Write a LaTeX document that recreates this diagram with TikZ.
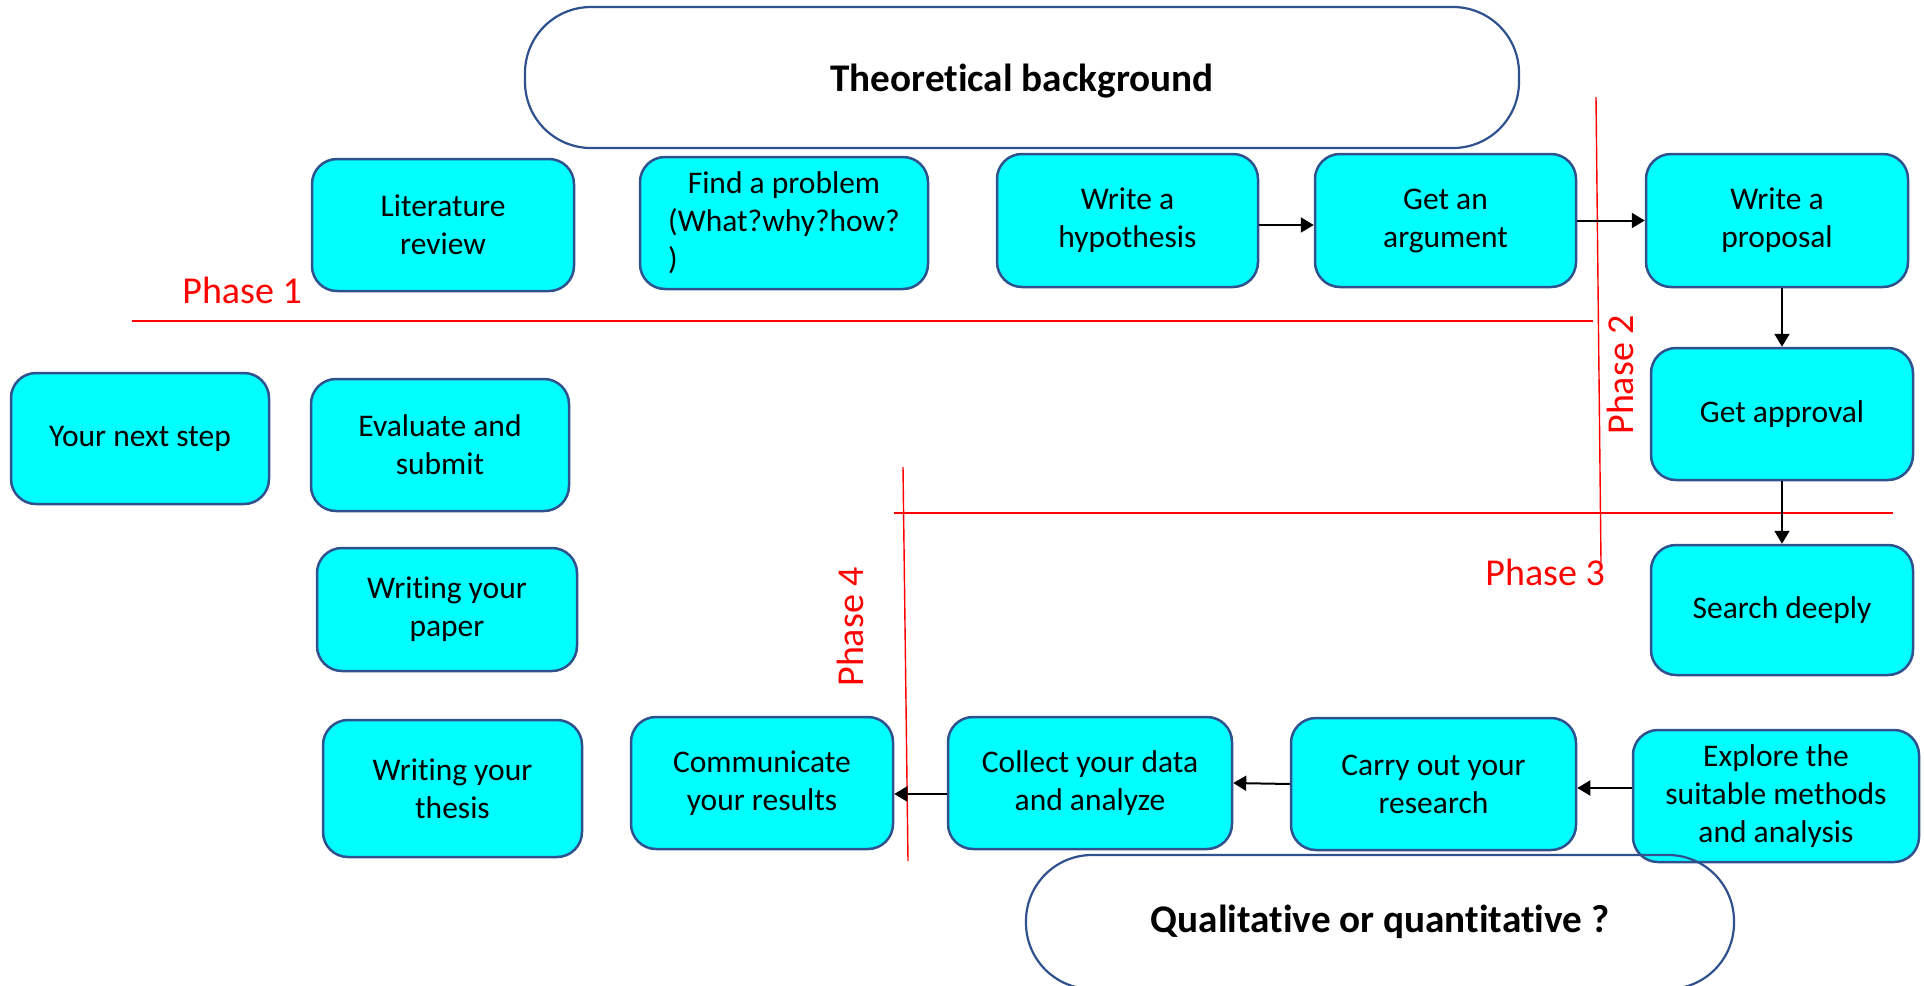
\documentclass[tikz,border=0pt]{standalone}
\usepackage{fontspec}
\usepackage{calc}
\setmainfont{Carlito}[Ligatures=NoCommon]
\usetikzlibrary{arrows.meta}
\definecolor{boxfill}{HTML}{00FFFF}
\definecolor{boxline}{HTML}{2F528F}
\definecolor{phasered}{HTML}{FF0000}
\tikzset{
  stepbox/.style={draw=boxline, fill=boxfill, line width=1.25pt, rounded corners=12.5pt,
    align=center, inner sep=0pt, font=\fontsize{15.75}{19}\selectfont},
  bigbox/.style={draw=boxline, line width=1.1pt, rounded corners=33pt, inner sep=0pt,
    font=\fontsize{19.6}{23}\selectfont\bfseries},
  arr/.style={draw=black, line width=1pt, -{Triangle[length=6.5pt,width=7.5pt]}},
  phaseline/.style={draw=phasered, line width=0.7pt},
  phaselabel/.style={text=phasered, inner sep=0pt, font=\fontsize{19}{22}\selectfont},
}
\newcommand{\bx}[6]{\node[stepbox, minimum width=#4*0.5pt, minimum height=#5*0.5pt] (#1) at (#2,#3) {#6};}
\begin{document}
\begin{tikzpicture}[x=0.5pt, y=-0.5pt]
\useasboundingbox (0,0) rectangle (1924,986);
% title box
\node[bigbox, fill=white, minimum width=497pt, minimum height=70.5pt] (theo) at (1022,77.5) {\raisebox{-2pt}[\height][\depth]{Theoretical background}};
% step boxes
\bx{lit}{443}{225}{262}{132}{Literature\\review}
\bx{find}{784}{223}{288}{132}{Find a problem\\(What?why?how?\\\makebox[\widthof{(What?why?how?}][l]{)}}
\bx{hyp}{1127.5}{220.5}{261}{133}{Write a\\hypothesis}
\bx{arg}{1445.5}{220.5}{261}{133}{Get an\\argument}
\bx{prop}{1777}{220.5}{262}{133}{Write a\\proposal}
\bx{appr}{1782}{414}{262}{132}{Get approval}
\bx{search}{1782}{610}{262}{130}{Search deeply}
\bx{next}{140}{438.5}{258}{131}{Your next step}
\bx{eval}{440}{445}{258}{132}{Evaluate and\\submit}
\bx{paper}{447}{609.5}{260}{123}{Writing your\\paper}
\bx{thesis}{452.5}{788.5}{259}{137}{Writing your\\thesis}
\bx{comm}{762}{783}{262}{132}{Communicate\\your results}
\bx{collect}{1090}{783}{284}{132}{Collect your data\\and analyze}
\bx{carry}{1433.5}{784}{285}{132}{Carry out your\\research}
\bx{explore}{1776}{796}{286}{132}{Explore the\\suitable methods\\and analysis}
% bottom question box (outline drawn over the boxes)
\node[bigbox, minimum width=354pt, minimum height=67pt] (qual) at (1380,922) {Qualitative or quantitative ?};
% phase separators
\coordinate (l1a) at (132,321);  \coordinate (l1b) at (1593,321);
\coordinate (l2a) at (1596,97);  \coordinate (l2b) at (1601,562);
\coordinate (l3a) at (894,513);  \coordinate (l3b) at (1893,513);
\coordinate (l4a) at (903,467);  \coordinate (l4b) at (908,861);
\draw[phaseline] (l1a) -- (l1b);
\draw[phaseline] (l2a) -- (l2b);
\draw[phaseline] (l3a) -- (l3b);
\draw[phaseline] (l4a) -- (l4b);
\node[phaselabel, anchor=base west] (p1) at (182,303) {Phase 1};
\node[phaselabel, anchor=base west, rotate=90] (p2) at (1633,435) {Phase 2};
\node[phaselabel, anchor=base west] (p3) at (1485,585) {Phase 3};
\node[phaselabel, anchor=base west, rotate=90] (p4) at (863,687) {Phase 4};
% connectors
\draw[arr] ([yshift=-2.25pt]hyp.east) -- ([yshift=-2.25pt]arg.west);
\draw[arr] (arg.east) -- (prop.west);
\draw[arr] ([xshift=2.5pt]prop.south) -- (appr.north);
\draw[arr] (appr.south) -- (search.north);
\draw[arr] ([yshift=4pt]explore.west) -- ([yshift=-2pt]carry.east);
\draw[arr] (carry.west) -- (collect.east);
\draw[arr] ([yshift=-5.5pt]collect.west) -- ([yshift=-5.5pt]comm.east);
\end{tikzpicture}
\end{document}
